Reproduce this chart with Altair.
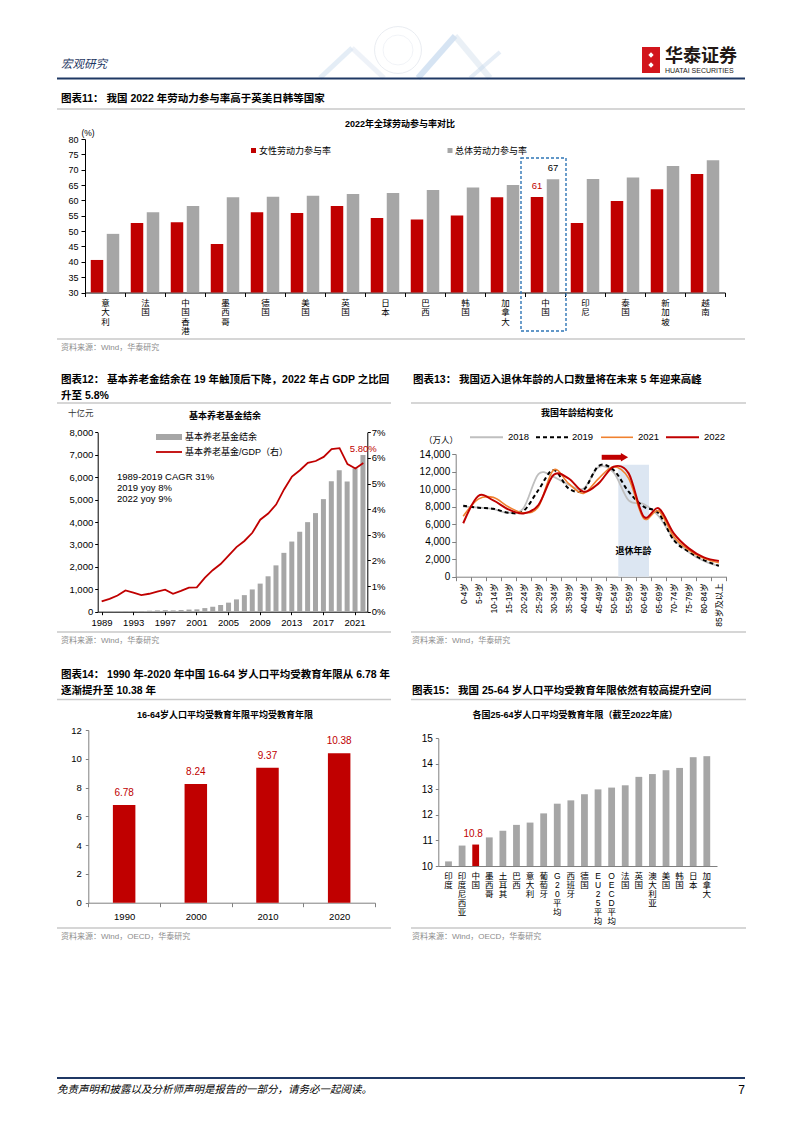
import altair as alt
import pandas as pd

# ---------------- data ----------------
c11_countries = ["意大利", "法国", "中国香港", "墨西哥", "德国", "美国", "英国", "日本",
                 "巴西", "韩国", "加拿大", "中国", "印尼", "泰国", "新加坡", "越南"]
c11_female = [40.6, 52.6, 52.9, 45.8, 56.1, 55.9, 58.2, 54.3, 53.8, 55.1, 61.0, 61.1, 52.6, 59.8, 63.6, 68.6]
c11_total = [49.1, 56.1, 58.2, 61.0, 61.2, 61.5, 62.1, 62.4, 63.4, 64.2, 65.0, 66.9, 67.0, 67.5, 71.2, 73.1]

c12_years = ["1989", "1990", "1991", "1992", "1993", "1994", "1995", "1996", "1997", "1998", "1999",
             "2000", "2001", "2002", "2003", "2004", "2005", "2006", "2007", "2008", "2009", "2010",
             "2011", "2012", "2013", "2014", "2015", "2016", "2017", "2018", "2019", "2020", "2021", "2022"]
c12_balance = [6.8, 9.8, 14.5, 22.0, 25.9, 30.5, 42.9, 57.9, 68.3, 58.8, 73.4, 94.7,
               105, 161, 221, 298, 404, 549, 739, 993, 1253, 1579, 2066, 2624, 3128, 3565,
               3994, 4397, 5020, 5815, 6305, 5808, 6397, 6985]
c12_ratio = [0.40, 0.50, 0.63, 0.83, 0.74, 0.65, 0.70, 0.78, 0.86, 0.70, 0.81, 0.94,
             0.95, 1.32, 1.62, 1.86, 2.19, 2.52, 2.76, 3.08, 3.59, 3.83, 4.18, 4.77, 5.27,
             5.52, 5.81, 5.88, 6.04, 6.34, 6.38, 5.76, 5.59, 5.80]
c12_xticks = ["1989", "1993", "1997", "2001", "2005", "2009", "2013", "2017", "2021"]

c13_ages = ["0-4岁", "5-9岁", "10-14岁", "15-19岁", "20-24岁", "25-29岁", "30-34岁", "35-39岁",
            "40-44岁", "45-49岁", "50-54岁", "55-59岁", "60-64岁", "65-69岁", "70-74岁", "75-79岁",
            "80-84岁", "85岁及以上"]
c13_2018 = [8000, 7900, 7700, 7300, 7800, 11700, 11400, 10500, 10050, 12500, 11900, 8700, 8300, 6900, 4300, 2800, 1800, 1200]
c13_2019 = [8100, 7870, 7760, 7300, 7490, 9890, 12170, 10080, 9890, 12630, 12170, 9700, 8000, 7230, 4180, 2850, 1900, 1250]
c13_2021 = [6900, 8850, 9050, 7980, 7300, 7980, 12170, 10650, 9510, 11200, 12550, 11220, 6650, 7500, 4560, 3040, 2090, 1600]
c13_2022 = [6100, 9200, 8700, 7680, 7220, 8180, 11600, 11220, 9700, 10650, 12550, 11790, 6850, 7800, 4940, 3230, 2200, 1790]

c14_years = ["1990", "2000", "2010", "2020"]
c14_values = [6.78, 8.24, 9.37, 10.38]

c15_names = ["印度", "印度尼西亚", "中国", "墨西哥", "土耳其", "巴西", "意大利", "葡萄牙", "G20平均",
             "西班牙", "德国", "EU25平均", "OECD平均", "法国", "英国", "澳大利亚", "美国", "韩国", "日本", "加拿大"]
c15_values = [10.18, 10.80, 10.84, 11.12, 11.38, 11.61, 11.70, 12.06, 12.44, 12.57, 12.81,
              13.00, 13.07, 13.16, 13.49, 13.60, 13.75, 13.84, 14.26, 14.30]

# ---------------- style ----------------
FONT = "Liberation Sans, Noto Sans CJK SC"
W, H = 786, 1117
M = 8
RED = "#c00000"
GRAY = "#a6a6a6"
NAVY = "#1f3864"
SEP = "#c9c9c9"
SRCC = "#8c8c8c"


def px(v):
    return v - M


BLANK = alt.Data(values=[{}])


def text(s, x, y, size=9.0, weight="normal", color="black", align="left", baseline="middle", italic=False):
    kw = dict(text=s, fontSize=size, fontWeight=weight, color=color, align=align,
              baseline=baseline, font=FONT)
    if italic:
        kw["fontStyle"] = "italic"
    return alt.Chart(BLANK).mark_text(**kw).encode(x=alt.value(px(x)), y=alt.value(px(y)))


def rule(x1, y1, x2, y2, color, width=1.0, dash=None, opacity=1.0):
    kw = dict(color=color, strokeWidth=width, opacity=opacity)
    if dash:
        kw["strokeDash"] = dash
    return alt.Chart(BLANK).mark_rule(**kw).encode(
        x=alt.value(px(x1)), y=alt.value(px(y1)), x2=alt.value(px(x2)), y2=alt.value(px(y2)))


def rect(x1, y1, x2, y2, fill=None, stroke=None, width=1.0, dash=None):
    kw = {}
    if fill:
        kw["fill"] = fill
    else:
        kw["fillOpacity"] = 0
    if stroke:
        kw["stroke"] = stroke
        kw["strokeWidth"] = width
    if dash:
        kw["strokeDash"] = dash
    return alt.Chart(BLANK).mark_rect(**kw).encode(
        x=alt.value(px(x1)), x2=alt.value(px(x2)), y=alt.value(px(y1)), y2=alt.value(px(y2)))


def symbol(x, y, shape, size, color, filled=True, width=1.0, opacity=1.0):
    return alt.Chart(BLANK).mark_point(shape=shape, size=size, filled=filled, color=color,
                                       strokeWidth=width, opacity=opacity).encode(
        x=alt.value(px(x)), y=alt.value(px(y)))


def ax(**kw):
    base = dict(title=None, grid=False, labelFont=FONT, labelColor="black", labelFontSize=9,
                domainColor="#000000", tickColor="#000000", domainWidth=1, tickWidth=1)
    base.update(kw)
    return alt.Axis(**base)


layers = []

# ---------------- page header ----------------
layers += [
    symbol(398, 50, "circle", 2200, "#e3e7ee", filled=False, width=0.8),
    symbol(398, 50, "circle", 900, "#e8ebf1", filled=False, width=0.6),
    rule(320, 78, 352, 48, "#c9dbee", 5, opacity=0.5),
    rule(352, 48, 384, 78, "#dde6f1", 5, opacity=0.5),
    rule(418, 78, 455, 36, "#b4cde9", 6, opacity=0.55),
    rule(455, 36, 490, 78, "#d6e1ee", 6, opacity=0.5),
    rule(470, 78, 500, 52, "#c5d6ea", 4, opacity=0.45),
    text("宏观研究", 61, 65, size=11.5, color=NAVY, italic=True),
    rect(642, 47, 660, 73, fill="#d2151c"),
    symbol(651, 55, "diamond", 28, "white"),
    symbol(651, 65, "diamond", 28, "white"),
    text("华泰证券", 665, 57, size=18, weight="bold", color="#231815"),
    text("HUATAI SECURITIES", 665, 70.5, size=7, color="#231815"),
    rule(57, 78.5, 745, 78.5, NAVY, 2.2),
]

# ---------------- chart 11 ----------------
df11 = pd.DataFrame({"country": c11_countries, "female": c11_female, "total": c11_total})
sx11 = dict(domain=c11_countries, range=[px(85), px(725)], paddingInner=0, paddingOuter=0)
sy11 = dict(domain=[30, 80], range=[px(292.5), px(139)])
ax_x11 = ax(orient="bottom", offset=px(292.5) - H, labelAngle=0, labelExpr="split(datum.label, '')",
            labelLineHeight=9.3, labelBaseline="top", labelFontSize=8.5, tickBand="extent",
            tickSize=4, labelPadding=2, labelOverlap=False)
ax_y11 = ax(orient="left", offset=-px(85), values=list(range(30, 81, 5)), tickSize=4, labelPadding=3)

layers += [
    text("图表11：  我国 2022 年劳动力参与率高于英美日韩等国家", 61, 99, size=10.5, weight="bold"),
    rule(57, 109, 745, 109, SEP, 1.5),
    text("2022年全球劳动参与率对比", 400, 124, size=9, weight="bold", align="center"),
    text("(%)", 88, 133, size=8.5, align="center"),
    rect(251, 148, 256, 153, fill=RED),
    text("女性劳动力参与率", 259, 150.5, size=9),
    rect(447.5, 148, 452.5, 153, fill=GRAY),
    text("总体劳动力参与率", 455, 150.5, size=9),
    alt.Chart(df11).mark_bar(color=RED, size=12.5, xOffset=-8).encode(
        x=alt.X("country:N", scale=alt.Scale(**sx11), axis=ax_x11),
        y=alt.Y("female:Q", scale=alt.Scale(**sy11), axis=ax_y11),
        y2=alt.datum(30)),
    alt.Chart(df11).mark_bar(color=GRAY, size=12.5, xOffset=8).encode(
        x=alt.X("country:N", scale=alt.Scale(**sx11), axis=None),
        y=alt.Y("total:Q", scale=alt.Scale(**sy11), axis=None),
        y2=alt.datum(30)),
    alt.Chart(df11).transform_filter("datum.country == '中国'").mark_text(
        color=RED, fontSize=9.5, baseline="bottom", dy=-6, dx=-8, font=FONT).encode(
        x=alt.X("country:N", scale=alt.Scale(**sx11), axis=None),
        y=alt.Y("female:Q", scale=alt.Scale(**sy11), axis=None),
        text=alt.Text("female:Q", format=".0f")),
    alt.Chart(df11).transform_filter("datum.country == '中国'").mark_text(
        color="black", fontSize=9.5, baseline="bottom", dy=-6, dx=8, font=FONT).encode(
        x=alt.X("country:N", scale=alt.Scale(**sx11), axis=None),
        y=alt.Y("total:Q", scale=alt.Scale(**sy11), axis=None),
        text=alt.Text("total:Q", format=".0f")),
    rect(521, 158, 566, 331, stroke="#2e75b6", width=1.4, dash=[3, 2]),
    rule(57, 339, 745, 339, SEP, 1.5),
    text("资料来源：Wind，华泰研究", 61, 348, size=8, color=SRCC),
]

# ---------------- chart 12 ----------------
df12 = pd.DataFrame({"year": c12_years, "balance": c12_balance, "ratio": c12_ratio})
sx12 = dict(domain=c12_years, range=[px(97.7), px(367.3)], paddingInner=0, paddingOuter=0.05)
sy12 = dict(domain=[0, 8000], range=[px(611.7), px(432.3)])
sy12r = dict(domain=[0, 7], range=[px(611.7), px(432.3)])
ax_x12 = ax(orient="bottom", offset=px(611.7) - H, values=c12_xticks, labelAngle=0, tickSize=3,
            labelPadding=3, labelFontSize=9.5)
ax_y12 = ax(orient="left", offset=-px(97.7), values=list(range(0, 8001, 1000)), format=",.0f",
            tickSize=3, labelPadding=2, labelFontSize=9.5)
ax_y12r = ax(orient="right", offset=px(367.3) - W, values=list(range(0, 8)),
             labelExpr="datum.value + '%'", tickSize=3, labelPadding=1, labelFontSize=9.5)

layers += [
    text("图表12：  基本养老金结余在 19 年触顶后下降，2022 年占 GDP 之比回", 61, 380, size=10.5, weight="bold"),
    text("升至 5.8%", 61, 396, size=10.5, weight="bold"),
    rule(57, 403, 391, 403, SEP, 1.5),
    text("十亿元", 68, 413, size=8.5, color="#333333"),
    text("基本养老基金结余", 225, 416, size=9, weight="bold", align="center"),
    rect(156, 434, 182, 440, fill=GRAY),
    text("基本养老基金结余", 185, 437, size=9),
    rule(156, 452, 182, 452, RED, 1.8),
    text("基本养老基金/GDP（右）", 185, 452, size=9),
    text("1989-2019 CAGR 31%", 117, 477, size=9.5),
    text("2019  yoy 8%", 117, 488, size=9.5),
    text("2022  yoy 9%", 117, 499, size=9.5),
    alt.Chart(df12).mark_bar(color=GRAY, size=5).encode(
        x=alt.X("year:N", scale=alt.Scale(**sx12), axis=ax_x12),
        y=alt.Y("balance:Q", scale=alt.Scale(**sy12), axis=ax_y12),
        y2=alt.datum(0)),
    alt.Chart(df12).mark_line(color=RED, strokeWidth=1.8).encode(
        x=alt.X("year:N", scale=alt.Scale(**sx12), axis=None),
        y=alt.Y("ratio:Q", scale=alt.Scale(**sy12r), axis=ax_y12r)),
    alt.Chart(df12).transform_filter("datum.year == '2022'").transform_calculate(
        lab="format(datum.ratio, '.2f') + '%'").mark_text(
        color=RED, fontSize=9.5, baseline="bottom", dy=-9, font=FONT).encode(
        x=alt.X("year:N", scale=alt.Scale(**sx12), axis=None),
        y=alt.Y("ratio:Q", scale=alt.Scale(**sy12r), axis=None),
        text="lab:N"),
    rule(57, 632, 391, 632, SEP, 1.5),
    text("资料来源：Wind，华泰研究", 61, 641, size=8, color=SRCC),
]

# ---------------- chart 13 ----------------
df13 = pd.DataFrame({"age": c13_ages, "y2018": c13_2018, "y2019": c13_2019,
                     "y2021": c13_2021, "y2022": c13_2022})
sx13 = dict(domain=c13_ages, range=[px(455.7), px(726.4)], paddingInner=0, paddingOuter=0)
sy13 = dict(domain=[0, 14000], range=[px(576.7), px(454)])
ax_x13 = ax(orient="bottom", offset=px(576.7) - H, labelAngle=-90, labelAlign="right",
            labelBaseline="middle", labelFontSize=8.5, tickBand="extent", tickSize=4, labelPadding=2,
            labelOverlap=False, domainColor="#808080", tickColor="#808080")
ax_y13 = ax(orient="left", offset=-px(455.7), values=list(range(0, 14001, 2000)), format=",.0f",
            tickSize=4, labelPadding=2, labelFontSize=10, domainColor="#808080", tickColor="#808080")

layers += [
    text("图表13：  我国迈入退休年龄的人口数量将在未来 5 年迎来高峰", 413, 380, size=10.5, weight="bold"),
    rule(411, 403, 746, 403, SEP, 1.5),
    text("我国年龄结构变化", 577, 413, size=9, weight="bold", align="center"),
    text("（万人）", 441, 440, size=8.5, align="center"),
    rule(470, 437.3, 503, 437.3, "#bfbfbf", 2),
    text("2018", 508, 437.3, size=9.5),
    rule(536, 437.3, 569, 437.3, "black", 2, dash=[4, 3]),
    text("2019", 572, 437.3, size=9.5),
    rule(601, 437.3, 633, 437.3, "#f0812f", 1.6),
    text("2021", 638, 437.3, size=9.5),
    rule(666, 437.3, 699, 437.3, RED, 2),
    text("2022", 704, 437.3, size=9.5),
    rect(618.3, 464.7, 649, 576.7, fill="#dce6f2"),
    text("退休年龄", 633.5, 551, size=9, weight="bold", align="center"),
]
line_specs = [("y2018", "#bfbfbf", 1.8, None, True),
              ("y2019", "black", 2.0, [4, 3], False),
              ("y2021", "#f0812f", 1.6, None, False),
              ("y2022", RED, 2.0, None, False)]
for col, colr, wid, dash, show in line_specs:
    kw = dict(color=colr, strokeWidth=wid, interpolate="cardinal")
    if dash:
        kw["strokeDash"] = dash
    layers.append(alt.Chart(df13).mark_line(**kw).encode(
        x=alt.X("age:N", scale=alt.Scale(**sx13), axis=ax_x13 if show else None),
        y=alt.Y(col + ":Q", scale=alt.Scale(**sy13), axis=ax_y13 if show else None)))
layers += [
    rule(601.7, 457.3, 622.5, 457.3, RED, 5),
    symbol(624.5, 457.3, "triangle-right", 70, RED),
    rule(411, 632, 746, 632, SEP, 1.5),
    text("资料来源：Wind，华泰研究", 412, 641, size=8, color=SRCC),
]

# ---------------- chart 14 ----------------
df14 = pd.DataFrame({"year": c14_years, "value": c14_values})
sx14 = dict(domain=c14_years, range=[px(88.3), px(375)], paddingInner=0, paddingOuter=0)
sy14 = dict(domain=[0, 12], range=[px(902.7), px(730)])
ax_x14 = ax(orient="bottom", offset=px(902.7) - H, labelAngle=0, tickBand="extent", tickSize=4,
            labelPadding=5, labelFontSize=9.5, domainColor="#808080", tickColor="#808080")
ax_y14 = ax(orient="left", offset=-px(88.3), values=list(range(0, 13, 2)), tickSize=3,
            labelPadding=4, labelFontSize=9.5, domainColor="#808080", tickColor="#808080")

layers += [
    text("图表14：  1990 年-2020 年中国 16-64 岁人口平均受教育年限从 6.78 年", 61, 674.5, size=10.5, weight="bold"),
    text("逐渐提升至 10.38 年", 61, 691, size=10.5, weight="bold"),
    rule(57, 699.5, 391, 699.5, SEP, 1.5),
    text("16-64岁人口平均受教育年限平均受教育年限", 225, 715, size=9, weight="bold", align="center"),
    alt.Chart(df14).mark_bar(color=RED, size=22.5).encode(
        x=alt.X("year:N", scale=alt.Scale(**sx14), axis=ax_x14),
        y=alt.Y("value:Q", scale=alt.Scale(**sy14), axis=ax_y14),
        y2=alt.datum(0)),
    alt.Chart(df14).mark_text(color=RED, fontSize=10, baseline="bottom", dy=-7, font=FONT).encode(
        x=alt.X("year:N", scale=alt.Scale(**sx14), axis=None),
        y=alt.Y("value:Q", scale=alt.Scale(**sy14), axis=None),
        text=alt.Text("value:Q", format=".2f")),
    rule(57, 928, 391, 928, SEP, 1.5),
    text("资料来源：Wind，OECD，华泰研究", 61, 937, size=8, color=SRCC),
]

# ---------------- chart 15 ----------------
df15 = pd.DataFrame({"name": c15_names, "value": c15_values})
sx15 = dict(domain=c15_names, range=[px(438.3), px(717)], paddingInner=0, paddingOuter=0.25)
sy15 = dict(domain=[10, 15], range=[px(866), px(738.3)])
ax_x15 = ax(orient="bottom", offset=px(866) - H, labelAngle=0, labelExpr="split(datum.label, '')",
            labelLineHeight=9, labelBaseline="top", labelFontSize=8.5, tickSize=0, labelPadding=5,
            labelOverlap=False, domainColor="#808080")
ax_y15 = ax(orient="left", offset=-px(438.3), values=list(range(10, 16)), tickSize=3,
            labelPadding=3, labelFontSize=10, domainColor="#808080", tickColor="#808080")

layers += [
    text("图表15：  我国 25-64 岁人口平均受教育年限依然有较高提升空间", 412, 691, size=10.5, weight="bold"),
    rule(411, 699.5, 746, 699.5, SEP, 1.5),
    text("各国25-64岁人口平均受教育年限（截至2022年底）", 575, 715, size=9, weight="bold", align="center"),
    alt.Chart(df15).mark_bar(size=6.8).encode(
        x=alt.X("name:N", scale=alt.Scale(**sx15), axis=ax_x15),
        y=alt.Y("value:Q", scale=alt.Scale(**sy15), axis=ax_y15),
        y2=alt.datum(10),
        color=alt.condition("datum.name == '中国'", alt.value(RED), alt.value(GRAY))),
    alt.Chart(df15).transform_filter("datum.name == '中国'").mark_text(
        color=RED, fontSize=10, baseline="bottom", dy=-6, font=FONT).encode(
        x=alt.X("name:N", scale=alt.Scale(**sx15), axis=None),
        y=alt.Y("value:Q", scale=alt.Scale(**sy15), axis=None),
        text=alt.Text("value:Q", format=".1f")),
    rule(411, 928, 746, 928, SEP, 1.5),
    text("资料来源：Wind，OECD，华泰研究", 412, 937, size=8, color=SRCC),
]

# ---------------- footer ----------------
layers += [
    rule(57, 1078, 745, 1078, NAVY, 2.2),
    text("免责声明和披露以及分析师声明是报告的一部分，请务必一起阅读。", 57, 1090, size=10.5, italic=True),
    text("7", 745, 1090, size=12, align="right"),
]

chart = alt.layer(*layers).resolve_scale(
    x="independent", y="independent"
).resolve_axis(
    x="independent", y="independent"
).properties(
    width=W, height=H, padding=0, autosize=alt.AutoSizeParams(type="none")
).configure_view(strokeWidth=0).configure_axis(grid=False)

chart.save("out.html", embed_options={"renderer": "svg", "actions": False})
